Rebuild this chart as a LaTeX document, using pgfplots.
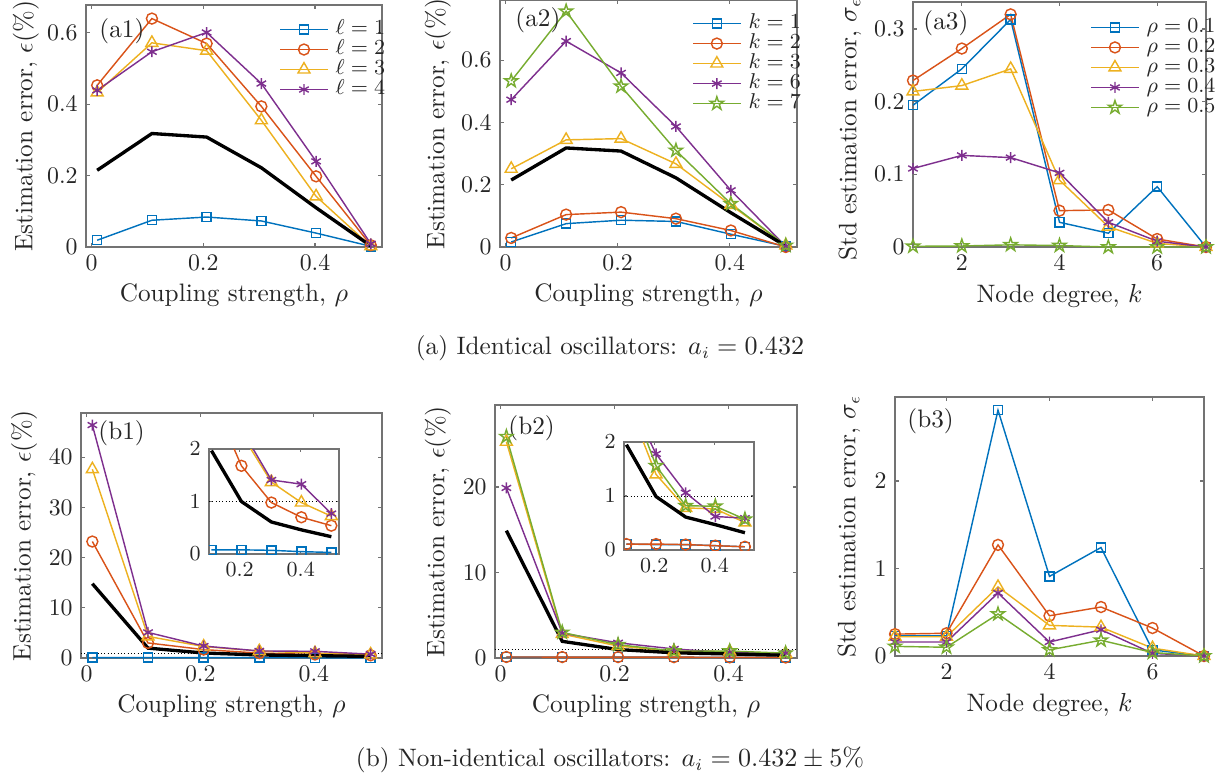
\documentclass[border=0pt]{standalone}
\usepackage{pgfplots}
\pgfplotsset{compat=1.18}

\newlength\px
\setlength\px{0.42pt}
\newcommand\lbl{\fontsize{10.6}{12.6}\selectfont}
\newcommand\tkl{\fontsize{10.4}{12.4}\selectfont}

\definecolor{mblue}{rgb}{0,0.447,0.741}
\definecolor{morange}{rgb}{0.85,0.325,0.098}
\definecolor{myellow}{rgb}{0.929,0.694,0.125}
\definecolor{mpurple}{rgb}{0.494,0.184,0.556}
\definecolor{mgreen}{rgb}{0.466,0.674,0.188}
\definecolor{boxgray}{gray}{0.45}
\definecolor{txtgray}{gray}{0.15}

% MATLAB-style outlined five-point star
\pgfdeclareplotmark{pentagram}{%
  \pgfpathmoveto{\pgfpointpolar{90}{\pgfplotmarksize}}%
  \pgfpathlineto{\pgfpointpolar{126}{0.382\pgfplotmarksize}}%
  \pgfpathlineto{\pgfpointpolar{162}{\pgfplotmarksize}}%
  \pgfpathlineto{\pgfpointpolar{198}{0.382\pgfplotmarksize}}%
  \pgfpathlineto{\pgfpointpolar{234}{\pgfplotmarksize}}%
  \pgfpathlineto{\pgfpointpolar{270}{0.382\pgfplotmarksize}}%
  \pgfpathlineto{\pgfpointpolar{306}{\pgfplotmarksize}}%
  \pgfpathlineto{\pgfpointpolar{342}{0.382\pgfplotmarksize}}%
  \pgfpathlineto{\pgfpointpolar{18}{\pgfplotmarksize}}%
  \pgfpathlineto{\pgfpointpolar{54}{0.382\pgfplotmarksize}}%
  \pgfpathclose
  \pgfusepathqstroke
}

\pgfplotsset{
  base/.style={
    scale only axis,
    anchor=north west,
    clip=false,
    axis line style={draw=boxgray, line width=0.5pt},
    tick style={draw=boxgray, line width=0.5pt},
    tick align=inside,
    major tick length=4\px,
    tick label style={font=\tkl, text=txtgray},
    label style={font=\lbl, text=txtgray},
    xlabel style={yshift=3\px},
    ylabel style={anchor=center},
    xticklabel style={/pgf/number format/fixed},
    legend cell align=left,
  },
  inset/.style={
    scale only axis,
    anchor=north west,
    clip=true,
    clip marker paths=true,
    axis background/.style={fill=white},
    axis line style={draw=boxgray, line width=0.5pt},
    tick style={draw=boxgray, line width=0.5pt},
    tick align=inside,
    major tick length=3\px,
    tick label style={font=\small, text=txtgray},
    xmin=0.1, xmax=0.525, ymin=0, ymax=2,
    xtick={0.2,0.4}, ytick={0,1,2},
    restrict x to domain=0.05:1,
  },
  leg/.style={
    legend style={draw=none, fill=none, font=\small, anchor=north west,
      inner sep=0pt, column sep=3pt, row sep=0pt,
      nodes={inner sep=0pt, text height=6.2pt, text depth=2.2pt, text=txtgray}},
    legend image code/.code={
      \draw[mark repeat=2, mark phase=2] plot coordinates {(0pt,0pt) (10pt,0pt) (20pt,0pt)};
    },
  },
  s1/.style={mblue, line width=0.6pt, mark=square, mark size=1.9pt, mark options={solid}},
  s2/.style={morange, line width=0.6pt, mark=o, mark size=2.3pt, mark options={solid}},
  s3/.style={myellow, line width=0.6pt, mark=triangle, mark size=2.9pt, mark options={solid}},
  s4/.style={mpurple, line width=0.6pt, mark=asterisk, mark size=2.3pt, mark options={solid}},
  s5/.style={mgreen, line width=0.6pt, mark=pentagram, mark size=2.9pt, mark options={solid}},
  mean/.style={black, line width=1.4pt, forget plot},
  ref/.style={black, densely dotted, line width=0.4pt, forget plot},
}

\begin{document}
\begin{tikzpicture}
\clip (0,0) rectangle (1219\px,-779\px);

% ---------------- (a1) ----------------
\begin{axis}[base, leg, at={(86\px,-5\px)}, width=296\px, height=242\px,
  xmin=-0.01, xmax=0.52, ymin=0, ymax=0.678,
  xtick={0,0.2,0.4}, ytick={0,0.2,0.4,0.6},
  xlabel={Coupling strength, $\rho$},
  ylabel={Estimation error, $\epsilon(\%)$},
  ylabel style={at={(axis description cs:-0.203,0.5)}},
  legend style={at={(axis description cs:0.652,0.942)}},
]
\addplot[s1] coordinates {(0.01,0.019) (0.108,0.075) (0.206,0.084) (0.304,0.073) (0.402,0.039) (0.5,0.002)};
\addlegendentry{$\ell=1$}
\addplot[s2] coordinates {(0.01,0.453) (0.108,0.640) (0.206,0.570) (0.304,0.394) (0.402,0.198) (0.5,0.005)};
\addlegendentry{$\ell=2$}
\addplot[s3] coordinates {(0.01,0.433) (0.108,0.572) (0.206,0.550) (0.304,0.355) (0.402,0.142) (0.5,0.002)};
\addlegendentry{$\ell=3$}
\addplot[s4] coordinates {(0.01,0.439) (0.108,0.547) (0.206,0.601) (0.304,0.458) (0.402,0.240) (0.5,0.009)};
\addlegendentry{$\ell=4$}
\addplot[mean] coordinates {(0.01,0.215) (0.108,0.318) (0.206,0.308) (0.304,0.222) (0.402,0.110) (0.5,0.003)};
\node[anchor=north west, inner sep=0pt, font=\lbl, text=txtgray] at ([xshift=13\px, yshift=-13\px]rel axis cs:0,1) {(a1)};
\end{axis}

% ---------------- (a2) ----------------
\begin{axis}[base, leg, at={(500\px,0\px)}, width=297\px, height=247\px,
  xmin=-0.01, xmax=0.52, ymin=0, ymax=0.793,
  xtick={0,0.2,0.4}, ytick={0,0.2,0.4,0.6},
  xlabel={Coupling strength, $\rho$},
  ylabel={Estimation error, $\epsilon(\%)$},
  ylabel style={at={(axis description cs:-0.209,0.5)}},
  legend style={at={(axis description cs:0.646,0.947)}},
]
\addplot[s1] coordinates {(0.01,0.016) (0.108,0.075) (0.206,0.086) (0.304,0.082) (0.402,0.041) (0.5,0.002)};
\addlegendentry{$k=1$}
\addplot[s2] coordinates {(0.01,0.029) (0.108,0.104) (0.206,0.112) (0.304,0.091) (0.402,0.053) (0.5,0.0)};
\addlegendentry{$k=2$}
\addplot[s3] coordinates {(0.01,0.251) (0.108,0.344) (0.206,0.348) (0.304,0.267) (0.402,0.135) (0.5,0.005)};
\addlegendentry{$k=3$}
\addplot[s4] coordinates {(0.01,0.473) (0.108,0.661) (0.206,0.559) (0.304,0.387) (0.402,0.182) (0.5,0.002)};
\addlegendentry{$k=6$}
\addplot[s5] coordinates {(0.01,0.533) (0.108,0.757) (0.206,0.516) (0.304,0.310) (0.402,0.139) (0.5,0.005)};
\addlegendentry{$k=7$}
\addplot[mean] coordinates {(0.01,0.215) (0.108,0.318) (0.206,0.308) (0.304,0.222) (0.402,0.110) (0.5,0.003)};
\node[anchor=north west, inner sep=0pt, font=\lbl, text=txtgray] at ([xshift=15\px, yshift=-7\px]rel axis cs:0,1) {(a2)};
\end{axis}

% ---------------- (a3) ----------------
\begin{axis}[base, leg, at={(913\px,-2\px)}, width=293\px, height=245\px,
  xmin=1, xmax=7, ymin=0, ymax=0.337,
  xtick={2,4,6}, ytick={0,0.1,0.2,0.3},
  xlabel={Node degree, $k$},
  ylabel={Std estimation error, $\sigma_\epsilon$},
  ylabel style={at={(axis description cs:-0.215,0.48)}},
  legend style={at={(axis description cs:0.604,0.939)}},
]
\addplot[s1] coordinates {(1,0.195) (2,0.245) (3,0.313) (4,0.034) (5,0.019) (6,0.083) (7,0)};
\addlegendentry{$\rho=0.1$}
\addplot[s2] coordinates {(1,0.229) (2,0.273) (3,0.320) (4,0.050) (5,0.051) (6,0.011) (7,0)};
\addlegendentry{$\rho=0.2$}
\addplot[s3] coordinates {(1,0.214) (2,0.222) (3,0.245) (4,0.092) (5,0.028) (6,0.005) (7,0)};
\addlegendentry{$\rho=0.3$}
\addplot[s4] coordinates {(1,0.108) (2,0.126) (3,0.123) (4,0.102) (5,0.034) (6,0.008) (7,0)};
\addlegendentry{$\rho=0.4$}
\addplot[s5] coordinates {(1,0.001) (2,0.0014) (3,0.003) (4,0.002) (5,0) (6,0) (7,0)};
\addlegendentry{$\rho=0.5$}
\node[anchor=north west, inner sep=0pt, font=\lbl, text=txtgray] at ([xshift=10\px, yshift=-8\px]rel axis cs:0,1) {(a3)};
\end{axis}

\node[font=\lbl, text=txtgray] at (610\px,-348\px) {(a) Identical oscillators: $a_i = 0.432$};

% ---------------- (b1) ----------------
\begin{axis}[base, at={(81\px,-413\px)}, width=301\px, height=245\px,
  xmin=-0.01, xmax=0.52, ymin=0, ymax=48.8,
  xtick={0,0.2,0.4}, ytick={0,10,20,30,40},
  xlabel={Coupling strength, $\rho$},
  ylabel={Estimation error, $\epsilon(\%)$},
  ylabel style={at={(axis description cs:-0.189,0.5)}},
]
\addplot[ref] coordinates {(-0.01,1) (0.52,1)};
\addplot[s1] coordinates {(0.01,0.09) (0.108,0.08) (0.206,0.08) (0.304,0.07) (0.402,0.045) (0.5,0.03)};
\addplot[s2] coordinates {(0.01,23.2) (0.108,3.0) (0.206,1.68) (0.304,0.98) (0.402,0.70) (0.5,0.54)};
\addplot[s3] coordinates {(0.01,37.6) (0.108,4.3) (0.206,2.29) (0.304,1.37) (0.402,0.98) (0.5,0.72)};
\addplot[s4] coordinates {(0.01,46.4) (0.108,5.1) (0.206,2.38) (0.304,1.41) (0.402,1.33) (0.5,0.77)};
\addplot[mean] coordinates {(0.01,14.8) (0.108,1.97) (0.206,1.0) (0.304,0.61) (0.402,0.46) (0.5,0.33)};
\node[anchor=north west, inner sep=0pt, font=\lbl, text=txtgray] at ([xshift=17\px, yshift=-7\px]rel axis cs:0,1) {(b1)};
\end{axis}

\begin{axis}[inset, at={(209\px,-449\px)}, width=130\px, height=105\px]
\addplot[ref] coordinates {(0.1,1) (0.525,1)};
\addplot[s1] coordinates {(0.01,0.09) (0.108,0.08) (0.206,0.08) (0.304,0.07) (0.402,0.045) (0.5,0.03)};
\addplot[s2] coordinates {(0.01,23.2) (0.108,3.0) (0.206,1.68) (0.304,0.98) (0.402,0.70) (0.5,0.54)};
\addplot[s3] coordinates {(0.01,37.6) (0.108,4.3) (0.206,2.29) (0.304,1.37) (0.402,0.98) (0.5,0.72)};
\addplot[s4] coordinates {(0.01,46.4) (0.108,5.1) (0.206,2.38) (0.304,1.41) (0.402,1.33) (0.5,0.77)};
\addplot[mean] coordinates {(0.01,14.8) (0.108,1.97) (0.206,1.0) (0.304,0.61) (0.402,0.46) (0.5,0.33)};
\end{axis}

% ---------------- (b2) ----------------
\begin{axis}[base, at={(495\px,-405\px)}, width=302\px, height=253\px,
  xmin=-0.01, xmax=0.52, ymin=0, ymax=29.6,
  xtick={0,0.2,0.4}, ytick={0,10,20},
  xlabel={Coupling strength, $\rho$},
  ylabel={Estimation error, $\epsilon(\%)$},
  ylabel style={at={(axis description cs:-0.189,0.5)}},
]
\addplot[ref] coordinates {(-0.01,1) (0.52,1)};
\addplot[s1] coordinates {(0.01,0.11) (0.108,0.11) (0.206,0.10) (0.304,0.10) (0.402,0.08) (0.5,0.06)};
\addplot[s2] coordinates {(0.01,0.12) (0.108,0.11) (0.206,0.11) (0.304,0.10) (0.402,0.08) (0.5,0.06)};
\addplot[s3] coordinates {(0.01,25.3) (0.108,2.8) (0.206,1.40) (0.304,0.78) (0.402,0.76) (0.5,0.51)};
\addplot[s4] coordinates {(0.01,19.9) (0.108,2.9) (0.206,1.78) (0.304,1.06) (0.402,0.62) (0.5,0.59)};
\addplot[s5] coordinates {(0.01,25.9) (0.108,3.0) (0.206,1.56) (0.304,0.82) (0.402,0.81) (0.5,0.57)};
\addplot[mean] coordinates {(0.01,14.9) (0.108,1.95) (0.206,0.99) (0.304,0.61) (0.402,0.47) (0.5,0.32)};
\node[anchor=north west, inner sep=0pt, font=\lbl, text=txtgray] at ([xshift=13\px, yshift=-10\px]rel axis cs:0,1) {(b2)};
\end{axis}

\begin{axis}[inset, at={(624\px,-442\px)}, width=130\px, height=108\px, xmax=0.53]
\addplot[ref] coordinates {(0.1,1) (0.53,1)};
\addplot[s1] coordinates {(0.01,0.11) (0.108,0.11) (0.206,0.10) (0.304,0.10) (0.402,0.08) (0.5,0.06)};
\addplot[s2] coordinates {(0.01,0.12) (0.108,0.11) (0.206,0.11) (0.304,0.10) (0.402,0.08) (0.5,0.06)};
\addplot[s3] coordinates {(0.01,25.3) (0.108,2.8) (0.206,1.40) (0.304,0.78) (0.402,0.76) (0.5,0.51)};
\addplot[s4] coordinates {(0.01,19.9) (0.108,2.9) (0.206,1.78) (0.304,1.06) (0.402,0.62) (0.5,0.59)};
\addplot[s5] coordinates {(0.01,25.9) (0.108,3.0) (0.206,1.56) (0.304,0.82) (0.402,0.81) (0.5,0.57)};
\addplot[mean] coordinates {(0.01,14.9) (0.108,1.95) (0.206,0.99) (0.304,0.61) (0.402,0.47) (0.5,0.32)};
\end{axis}

% ---------------- (b3) ----------------
\begin{axis}[base, at={(895\px,-397\px)}, width=309\px, height=259\px,
  xmin=1, xmax=7, ymin=0, ymax=2.96,
  xtick={2,4,6}, ytick={0,1,2},
  xlabel={Node degree, $k$},
  ylabel={Std estimation error, $\sigma_\epsilon$},
  ylabel style={at={(axis description cs:-0.149,0.5)}},
]
\addplot[s1] coordinates {(1,0.23) (2,0.23) (3,2.81) (4,0.91) (5,1.24) (6,0.07) (7,0)};
\addplot[s2] coordinates {(1,0.25) (2,0.26) (3,1.27) (4,0.46) (5,0.56) (6,0.32) (7,0)};
\addplot[s3] coordinates {(1,0.22) (2,0.22) (3,0.79) (4,0.35) (5,0.33) (6,0.09) (7,0)};
\addplot[s4] coordinates {(1,0.16) (2,0.16) (3,0.72) (4,0.16) (5,0.30) (6,0.03) (7,0)};
\addplot[s5] coordinates {(1,0.11) (2,0.10) (3,0.48) (4,0.07) (5,0.18) (6,0.04) (7,0)};
\node[anchor=north west, inner sep=0pt, font=\lbl, text=txtgray] at ([xshift=12\px, yshift=-11\px]rel axis cs:0,1) {(b3)};
\end{axis}

\node[font=\lbl, text=txtgray] at (610\px,-760\px) {(b) Non-identical oscillators: $a_i = 0.432 \pm 5\%$};

\end{tikzpicture}
\end{document}
